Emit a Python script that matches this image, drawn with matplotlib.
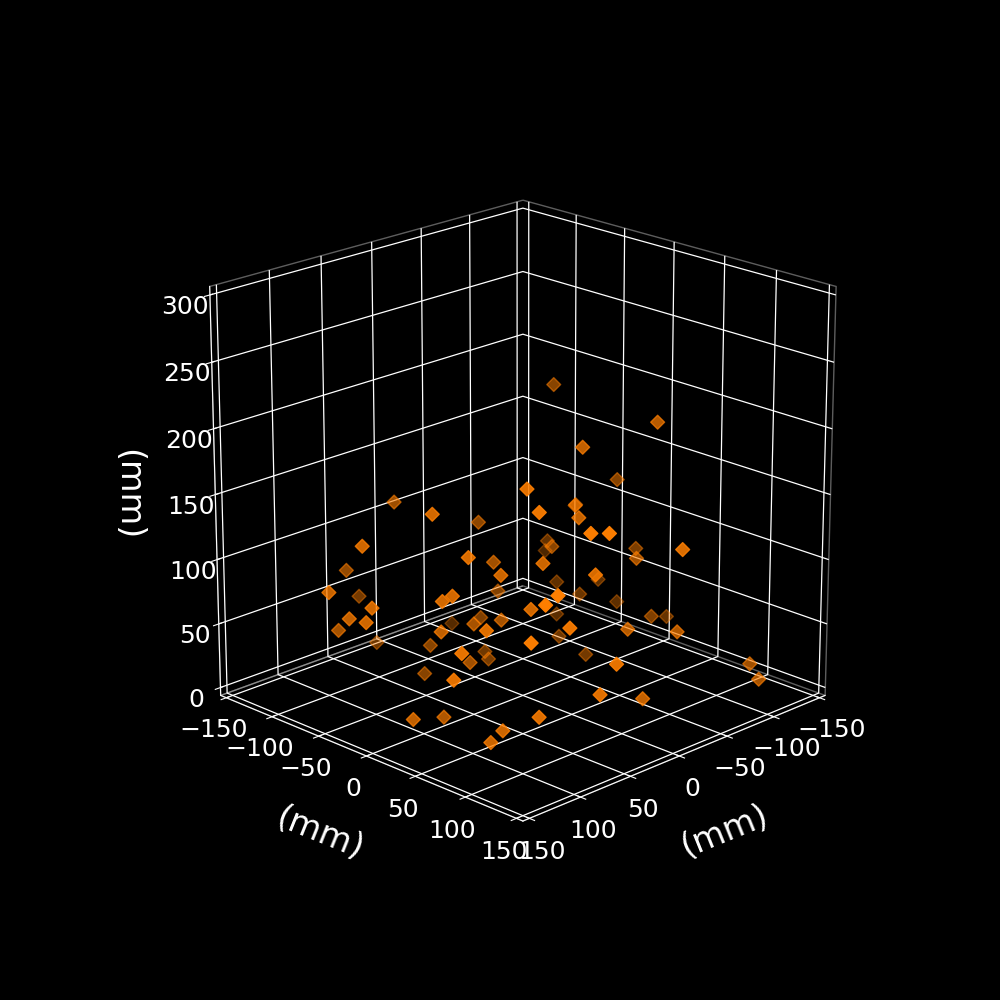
import matplotlib
matplotlib.use('Agg')
import matplotlib.pyplot as plt

# marker positions in mm
x_mm = [60, 70, 50, 93, -9, 128, 75, 89, 15, 59, -19, 145, 38, 137, 102, 97, 135, 140, 110, 29, -46, -10, 41, 27, 96, 89, 32, 124, 43, -24, -14, 39, 128, 117, 84, 86, 88, 94, 58, 99, 106, 38, -91, -47, -122, -96, 93, -96, -78, -68, -14, -97, -43, -59, 4, 61, 52, -107, -58, -17, 26, -118, -92, -128, -99, -138, -46, -21, 71, -67, -73, 48, 56, 2, -100, -92]
y_mm = [64, 86, -82, 3, -55, -32, -107, 35, -15, 37, -45, -49, -134, -13, 22, 27, -39, -16, -78, -125, -122, -54, -9, 5, 60, 7, -64, 64, -11, -64, -50, -63, 60, 7, 4, 102, 68, 62, 66, 121, 114, 58, -65, -17, -98, -60, 127, -60, -46, 68, 46, 1, 11, -5, 60, 127, 136, 11, 58, 141, 98, -38, -32, -28, 35, 14, 110, 85, 117, -29, -7, 140, 132, 122, 132, 148]
z_mm = [186, 177, 136, 160, 112, 136, 83, 135, 98, 114, 58, 101, 45, 97, 102, 106, 81, 86, 54, 8, 3, 37, 59, 62, 89, 71, 24, 81, 29, 3, 4, 4, 61, 12, 3, 33, 13, 4, 96, 126, 98, 123, 73, 93, 48, 40, 133, 14, 204, 205, 194, 137, 134, 125, 149, 170, 170, 83, 101, 141, 122, 42, 39, 24, 38, 21, 62, 64, 100, 13, 3, 73, 50, 28, 28, 23]

plt.style.use('dark_background')
plt.rcParams['axes3d.automargin'] = True
plt.rcParams['grid.linewidth'] = 0.9

fig = plt.figure(figsize=(10, 10))
ax = fig.add_subplot(projection='3d')
ax.set_box_aspect((1, 1, 1), zoom=0.95)
ax.view_init(elev=20, azim=45)

ax.scatter(x_mm, y_mm, z_mm, marker='D', s=50, color='#ff7f00')

ax.set_xlim(-150, 150)
ax.set_ylim(-150, 150)
ax.set_zlim(0, 300)
ax.set_xlabel('(mm)', fontsize=24, labelpad=20, rotation=22)
ax.set_ylabel('(mm)', fontsize=24, labelpad=21, rotation=-22)
ax.zaxis.set_rotate_label(False)
ax.set_zlabel('(mm)', fontsize=24, labelpad=20, rotation=-90)
ax.tick_params(labelsize=18)

for axis in (ax.xaxis, ax.yaxis, ax.zaxis):
    axis.pane.fill = False
    axis.pane.set_edgecolor('#bbbbbb')

fig.savefig('out.png', dpi=100)
